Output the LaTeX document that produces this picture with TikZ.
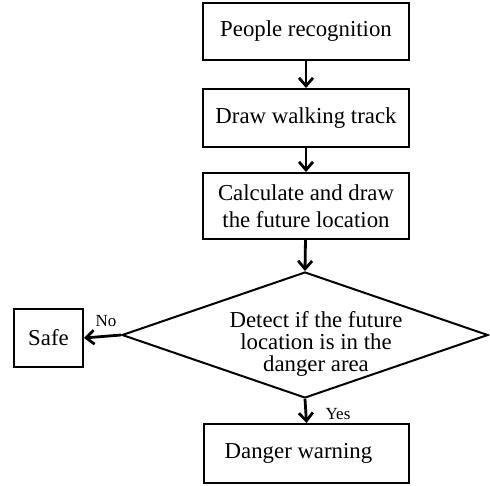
\documentclass[tikz,border=0pt]{standalone}
\usepackage{fontspec}
\setmainfont{Liberation Serif}
\usetikzlibrary{shapes.geometric,arrows.meta}
\begin{document}
\begin{tikzpicture}[x=1pt,y=-1pt,
  box/.style={draw,line width=2pt,rectangle,inner sep=0pt,font=\fontsize{22.8}{27}\selectfont,align=center},
  decision/.style={draw,line width=2pt,diamond,inner sep=0pt},
  dtext/.style={font=\fontsize{22.8}{21.7}\selectfont,align=center,inner sep=0pt},
  flow/.style={line width=2.8pt,-{Straight Barb[length=8pt,width=14pt,line width=2.8pt]}},
  small/.style={font=\fontsize{17}{20}\selectfont,inner sep=0pt}]
\useasboundingbox (0,0) rectangle (490,485);
\node[box,minimum width=206pt,minimum height=57pt] (recog) at (306,31.5) {People recognition};
\node[box,minimum width=206pt,minimum height=58pt] (track) at (306,118) {Draw walking track};
\node[box,minimum width=206pt,minimum height=66pt] (future) at (306,206) {Calculate and draw\\the future location};
\node[decision,minimum width=366pt,minimum height=126pt] (detect) at (305,335) {};
\node[dtext] (dlabel) at (316,344) {Detect if the future\\location is in the\\danger area};
\node[box,minimum width=69pt,minimum height=58pt] (safe) at (48.5,338) {Safe};
\node[box,minimum width=205pt,minimum height=59pt] (warn) at (306.5,453.5) {\hspace*{-16pt}Danger warning};
\draw[flow] (recog) -- (track);
\draw[flow] (track) -- (future);
\draw[flow] (future) -- (detect.north);
\draw[flow] (detect.west) -- (safe.east);
\draw[flow] (detect.south) -- (warn.north);
\node[small] (no) at (106,321) {No};
\node[small] (yes) at (338,414) {Yes};
\end{tikzpicture}
\end{document}
